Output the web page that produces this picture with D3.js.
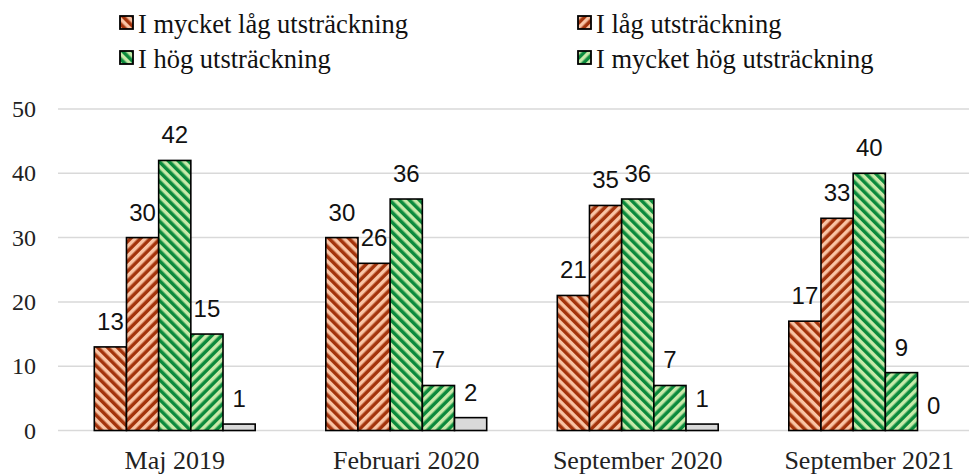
<!DOCTYPE html>
<html>
<head>
<meta charset="utf-8">
<script src="https://cdn.jsdelivr.net/npm/d3@7"></script>
<style>
  html, body { margin: 0; padding: 0; background: #fff; }
  svg { display: block; }
</style>
</head>
<body>
<svg id="chart" width="969" height="474"></svg>
<script>
const categories = ["Maj 2019", "Februari 2020", "September 2020", "September 2021"];
const seriesNames = ["I mycket låg utsträckning", "I låg utsträckning", "I hög utsträckning", "I mycket hög utsträckning", "Vet ej"];
const sMycketLag = [13, 30, 21, 17];
const sLag = [30, 26, 35, 33];
const sHog = [42, 36, 36, 40];
const sMycketHog = [15, 7, 7, 9];
const sVetEj = [1, 2, 1, 0];
const yTicks = [0, 10, 20, 30, 40, 50];

const seriesValues = [sMycketLag, sLag, sHog, sMycketHog, sVetEj];
const legendSeries = [0, 1, 2, 3];

const styles = [
  { bg: "#F9C4A5", fg: "#A3330B", dir: "down" },
  { bg: "#A3330B", fg: "#F9C4A5", dir: "up" },
  { bg: "#C8EAAA", fg: "#0B8A3C", dir: "down" },
  { bg: "#0B8A3C", fg: "#C8EAAA", dir: "up" },
  { bg: "#D9D9D9", fg: null, dir: null }
];

const svg = d3.select("#chart");
const defs = svg.append("defs");

styles.forEach((s, i) => {
  if (!s.fg) return;
  const p = defs.append("pattern")
    .attr("id", "pat" + i)
    .attr("patternUnits", "userSpaceOnUse")
    .attr("width", 7).attr("height", 7)
    .attr("patternTransform", "rotate(" + (s.dir === "down" ? -45 : 45) + ")");
  p.append("rect").attr("width", 7).attr("height", 7).attr("fill", s.bg);
  p.append("rect").attr("x", 0).attr("y", 0).attr("width", 3.5).attr("height", 7).attr("fill", s.fg);
});
const fillOf = i => styles[i].fg ? "url(#pat" + i + ")" : styles[i].bg;

const x0 = d3.scaleBand().domain(categories).range([59, 985]).paddingInner(0.305).paddingOuter(0.1525);
const x1 = d3.scaleBand().domain(d3.range(seriesNames.length)).range([0, x0.bandwidth()]);
const y = d3.scaleLinear().domain([0, 50]).range([430.5, 109]);

svg.append("g").selectAll("line").data(yTicks).join("line")
  .attr("x1", 58).attr("x2", 969)
  .attr("y1", d => y(d)).attr("y2", d => y(d))
  .attr("stroke", "#D9D9D9").attr("stroke-width", 1.5);

svg.append("g").selectAll("text").data(yTicks).join("text")
  .attr("x", 36).attr("y", d => y(d) + 8)
  .attr("text-anchor", "end")
  .attr("font-family", "'Liberation Serif', 'Times New Roman', serif")
  .attr("font-size", 24).attr("fill", "#222")
  .text(d => d);

const groups = svg.append("g").selectAll("g").data(categories).join("g")
  .attr("transform", d => "translate(" + x0(d) + ",0)");

groups.each(function(cat, ci) {
  const g = d3.select(this);
  const data = seriesValues.map((vals, si) => ({ si, v: vals[ci] }));
  g.selectAll("rect").data(data).join("rect")
    .attr("x", d => x1(d.si))
    .attr("y", d => y(d.v))
    .attr("width", x1.bandwidth())
    .attr("height", d => y(0) - y(d.v))
    .attr("fill", d => fillOf(d.si))
    .attr("stroke", "#000")
    .attr("stroke-width", 1.6);
  g.selectAll("text").data(data).join("text")
    .attr("x", d => x1(d.si) + x1.bandwidth() / 2)
    .attr("y", d => y(d.v) - 17)
    .attr("text-anchor", "middle")
    .attr("font-family", "'Liberation Sans', Arial, sans-serif")
    .attr("font-size", 24).attr("fill", "#111")
    .text(d => d.v);
});

svg.append("g").selectAll("text").data(categories).join("text")
  .attr("x", d => x0(d) + x0.bandwidth() / 2)
  .attr("y", 469)
  .attr("text-anchor", "middle")
  .attr("font-family", "'Liberation Serif', 'Times New Roman', serif")
  .attr("font-size", 26).attr("fill", "#222")
  .text(d => d);

const legendPos = [
  { x: 120, y: 16 }, { x: 578, y: 16 },
  { x: 120, y: 51 }, { x: 578, y: 51 }
];
const lg = svg.append("g").selectAll("g").data(legendSeries).join("g")
  .attr("transform", (d, i) => "translate(" + legendPos[i].x + "," + legendPos[i].y + ")");
lg.append("rect")
  .attr("width", 13).attr("height", 13)
  .attr("fill", d => fillOf(d))
  .attr("stroke", "#000").attr("stroke-width", 1.8);
lg.append("text")
  .attr("x", 18).attr("y", 17)
  .attr("font-family", "'Liberation Serif', 'Times New Roman', serif")
  .attr("font-size", 26.5).attr("fill", "#111")
  .text(d => seriesNames[d]);
</script>
</body>
</html>
